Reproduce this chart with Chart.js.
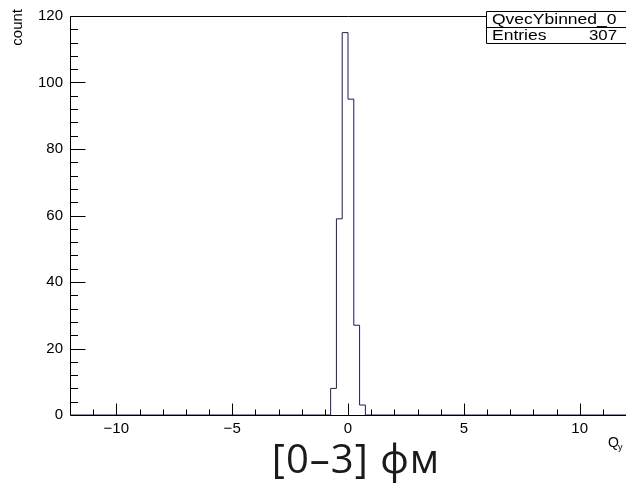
<!DOCTYPE html>
<html><head><meta charset="utf-8">
<script src="https://cdn.jsdelivr.net/npm/chart.js@4"></script>
<style>
html,body{margin:0;padding:0;background:#fff;}
#wrap{position:relative;width:626px;height:486px;overflow:hidden;background:#fff;}
#c{position:absolute;left:0;top:0;}
#cap{position:absolute;left:0;width:712px;top:430px;text-align:center;font:40px "Open Sans","Lato",sans-serif;letter-spacing:1px;color:#1a1a1a;}
</style></head>
<body><div id="wrap"><canvas id="c" width="626" height="486"></canvas>
<div id="cap">[0–3] фм</div></div>
<script>
const binLowEdge = -0.75;
const binWidth = 0.25;
const counts = [8, 59, 115, 95, 27, 3];
const xTickLabels = [-10, -5, 0, 5, 10];
const yTickLabels = [0, 20, 40, 60, 80, 100, 120];
const xRange = [-12, 12];
const yRange = [0, 120];
const histName = 'QvecYbinned_0';
const entries = counts.reduce((a, b) => a + b, 0);

const pts = [{x: xRange[0], y: 0}];
counts.forEach((c, i) => pts.push({x: binLowEdge + i * binWidth, y: c}));
pts.push({x: binLowEdge + counts.length * binWidth, y: 0});
pts.push({x: xRange[1], y: 0});

const rootAxes = {
  id: 'rootAxes',
  afterDraw(chart) {
    const {ctx, chartArea: a, scales: {x, y}} = chart;
    ctx.save();
    ctx.strokeStyle = '#000';
    ctx.lineWidth = 1;
    ctx.beginPath();
    const L = Math.round(a.left) + 0.5, B = Math.round(a.bottom) + 0.5, T = Math.round(a.top) + 0.5;
    ctx.moveTo(L, T); ctx.lineTo(a.right, T);
    ctx.moveTo(L, T); ctx.lineTo(L, B); ctx.lineTo(a.right, B);
    for (let v = xRange[0] + 1; v < xRange[1]; v++) {
      const px = Math.round(x.getPixelForValue(v)) + 0.5;
      const len = v % 5 === 0 ? 12 : 6;
      ctx.moveTo(px, B); ctx.lineTo(px, B - len);
    }
    for (let v = yRange[0] + 4; v <= yRange[1]; v += 4) {
      const py = Math.round(y.getPixelForValue(v)) + 0.5;
      const len = v % 20 === 0 ? 15 : 7.5;
      ctx.moveTo(L, py); ctx.lineTo(L + len, py);
    }
    ctx.stroke();
    ctx.fillStyle = '#000';
    ctx.font = '15px "Liberation Sans", Arial, sans-serif';
    ctx.save();
    ctx.translate(18, 9);
    ctx.rotate(-Math.PI / 2);
    ctx.textAlign = 'right';
    ctx.textBaseline = 'middle';
    ctx.fillText('count', 0, 0);
    ctx.restore();
    ctx.font = '14px "Liberation Sans", Arial, sans-serif';
    ctx.textAlign = 'left';
    ctx.textBaseline = 'alphabetic';
    ctx.fillText('Q', 608, 447);
    ctx.font = '9px "Liberation Sans", Arial, sans-serif';
    ctx.fillText('y', 618, 450);
    // stats box
    ctx.fillStyle = '#fff';
    ctx.fillRect(486.5, 11.5, 160, 32);
    ctx.beginPath();
    ctx.rect(486.5, 11.5, 160, 32);
    ctx.moveTo(486.5, 27.5); ctx.lineTo(626, 27.5);
    ctx.stroke();
    ctx.fillStyle = '#000';
    ctx.font = '14px "Liberation Sans", Arial, sans-serif';
    ctx.save();
    ctx.translate(492, 23.5);
    ctx.scale(1.25, 1);
    ctx.fillText(histName, 0, 0);
    ctx.restore();
    ctx.save();
    ctx.translate(492, 39.5);
    ctx.scale(1.25, 1);
    ctx.fillText('Entries', 0, 0);
    ctx.restore();
    ctx.save();
    ctx.translate(617, 39.5);
    ctx.scale(1.2, 1);
    ctx.textAlign = 'right';
    ctx.fillText(String(entries), 0, 0);
    ctx.restore();
    ctx.restore();
  }
};

new Chart(document.getElementById('c'), {
  type: 'line',
  data: {datasets: [{data: pts, stepped: 'before', borderColor: '#1c1c55', borderWidth: 1, pointRadius: 0, fill: false}]},
  options: {
    responsive: false, animation: false,
    layout: {padding: {top: 14, right: 0, left: 0, bottom: 0}},
    plugins: {legend: {display: false}, tooltip: {enabled: false}},
    scales: {
      x: {type: 'linear', min: xRange[0], max: xRange[1],
        grid: {display: false, drawTicks: false}, border: {display: false},
        afterFit: s => { s.height = 71; },
        afterBuildTicks: s => { s.ticks = xTickLabels.map(v => ({value: v})); },
        ticks: {padding: 5, color: '#000', maxRotation: 0, autoSkip: false,
          font: {family: '"Liberation Sans", Arial, sans-serif', size: 15},
          callback: v => String(v).replace('-', '\u2212')}},
      y: {type: 'linear', min: yRange[0], max: yRange[1],
        grid: {display: false, drawTicks: false}, border: {display: false},
        afterFit: s => { s.width = 70; },
        afterBuildTicks: s => { s.ticks = yTickLabels.map(v => ({value: v})); },
        ticks: {padding: 7, color: '#000', autoSkip: false,
          font: {family: '"Liberation Sans", Arial, sans-serif', size: 15}}}
    }
  },
  plugins: [rootAxes]
});
</script></body></html>
